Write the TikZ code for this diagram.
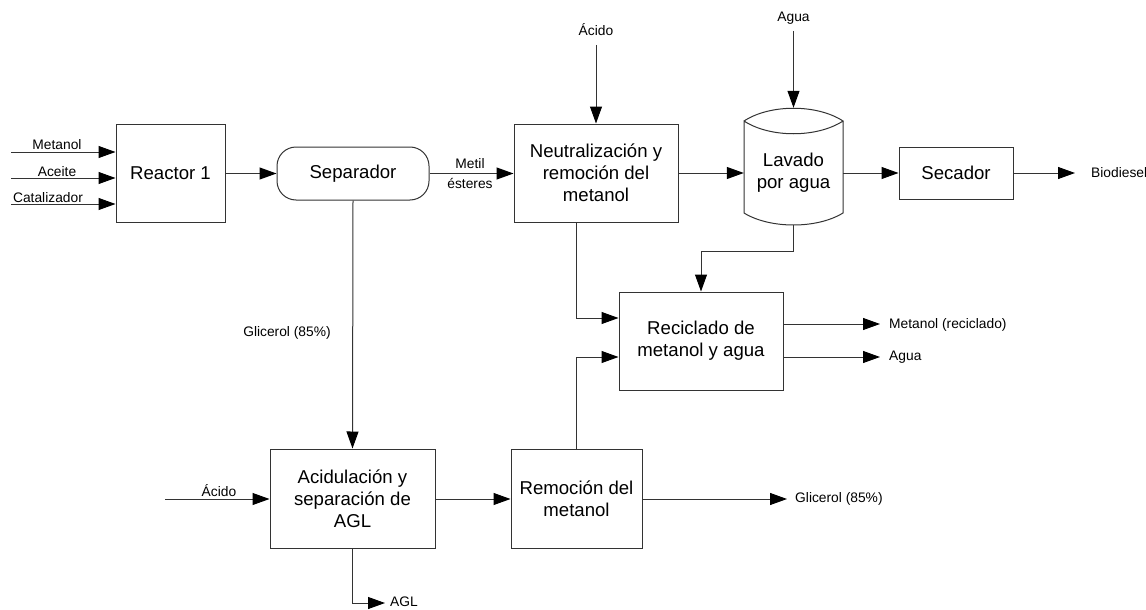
\documentclass[tikz,border=0pt]{standalone}
\usepackage{fontspec}
\setmainfont{Liberation Sans}
\usetikzlibrary{arrows.meta}
\newcommand{\procfont}{\fontsize{18.6}{22}\selectfont}
\newcommand{\tagfont}{\fontsize{13.8}{16}\selectfont}
\begin{document}
\begin{tikzpicture}[x=1pt,y=-1pt,
  unit/.style n args={2}{draw=black!80, line width=1pt, minimum width=#1,
    minimum height=#2, inner sep=0pt, align=center, font=\procfont},
  txt/.style={inner sep=0pt, align=center, font=\procfont},
  tag/.style={inner sep=0pt, font=\tagfont},
  flow/.style={draw=black!80, line width=1pt,
    -{Triangle[length=17pt,width=12pt,color=black]}},
  pipe/.style={draw=black!80, line width=1pt}]
\useasboundingbox (0,0) rectangle (1146,610);

% process units
\node[unit={109}{98}] (reactor) at (170.5,173) {Reactor 1};
\node[unit={152}{53}, rounded corners=19pt] (sep) at (353,173.5) {Separador};
\node[unit={164}{98}] (neut) at (596,173) {Neutralización y\\remoción del\\metanol};
\node[unit={114}{52}] (sec) at (956,173) {Secador};
\node[unit={164}{98}] (rec) at (701,341) {Reciclado de\\metanol y agua};
\node[unit={165}{99}] (acid) at (352.5,498.5) {Acidulación y\\separación de\\AGL};
\node[unit={131}{99}] (rem) at (576.5,498.5) {Remoción del\\metanol};

% washing drum
\node[minimum width=99pt, minimum height=117pt, inner sep=0pt] (lav) at (793.5,166.5) {};
\draw[pipe] (744,121) .. controls (770,104) and (817,104) .. (843,121)
                      .. controls (817,138) and (770,138) .. (744,121)
            -- (744,213) .. controls (770,229) and (817,229) .. (843,213)
            -- (843,121);
\node[txt] (lavtxt) at (793.5,173) {Lavado\\por agua};

% free ends of the streams
\coordinate (inMet) at (11,152);
\coordinate (inAce) at (11,178);
\coordinate (inCat) at (11,204);
\coordinate (inAcN) at (596,45);
\coordinate (inAgua) at (793.5,31);
\coordinate (outBio) at (1075,173);
\coordinate (outMet) at (880,324);
\coordinate (outAgua) at (880,357);
\coordinate (inAcA) at (165,499);
\coordinate (outGli) at (787,499);
\coordinate (outAGL) at (385,603);
\coordinate (jN) at (576,318);
\coordinate (jR) at (576,357);
\coordinate (jL) at (701,251);

% feeds to the reactor
\draw[flow] (inMet) -- (reactor.west |- inMet);
\draw[flow] (inAce) -- (reactor.west |- inAce);
\draw[flow] (inCat) -- (reactor.west |- inCat);
\node[tag] (tMet) at (57,145) {Metanol};
\node[tag] (tAce) at (57,171.5) {Aceite};
\node[tag] (tCat) at (48,197.5) {Catalizador};

% main biodiesel line
\draw[flow] (reactor.east |- sep.west) -- (sep.west);
\draw[flow] (sep.east) -- (neut.west |- sep.east);
\node[tag] (tMetil) at (470,164) {Metil};
\node[tag] (tEst) at (470,183) {ésteres};
\draw[flow] (inAcN) -- (neut.north);
\node[tag] (tAcN) at (596,30) {Ácido};
\draw[flow] (neut.east) -- (lav.west |- neut.east);
\draw[flow] (inAgua) -- (lav.north);
\node[tag] (tAgua) at (793.5,18) {Agua};
\draw[flow] (lav.east |- sec.west) -- (sec.west);
\draw[flow] (sec.east) -- (outBio);
\node[tag, anchor=west] (tBio) at (1091,173) {Biodiesel};

% recycling of methanol and water
\draw[flow] (neut.south -| jN) |- (rec.west |- jN);
\draw[flow] (rem.north) |- (rec.west |- jR);
\draw[flow] (lav.south) |- (jL) -- (rec.north);
\draw[flow] (rec.east |- outMet) -- (outMet);
\draw[flow] (rec.east |- outAgua) -- (outAgua);
\node[tag, anchor=west] (tMetR) at (889,325) {Metanol (reciclado)};
\node[tag, anchor=west] (tAguaR) at (889,357) {Agua};

% glycerol line
\draw[flow] (sep.south) -- (acid.north);
\node[tag] (tGli) at (287,333) {Glicerol (85\%)};
\draw[flow] (inAcA) -- (acid.west |- inAcA);
\node[tag] (tAcA) at (219,491) {Ácido};
\draw[flow] (acid.east |- inAcA) -- (rem.west |- inAcA);
\draw[flow] (rem.east |- inAcA) -- (outGli);
\node[tag, anchor=west] (tGliO) at (795,499) {Glicerol (85\%)};
\draw[flow] (acid.south) |- (outAGL);
\node[tag, anchor=west] (tAGL) at (390,602) {AGL};
\end{tikzpicture}
\end{document}
